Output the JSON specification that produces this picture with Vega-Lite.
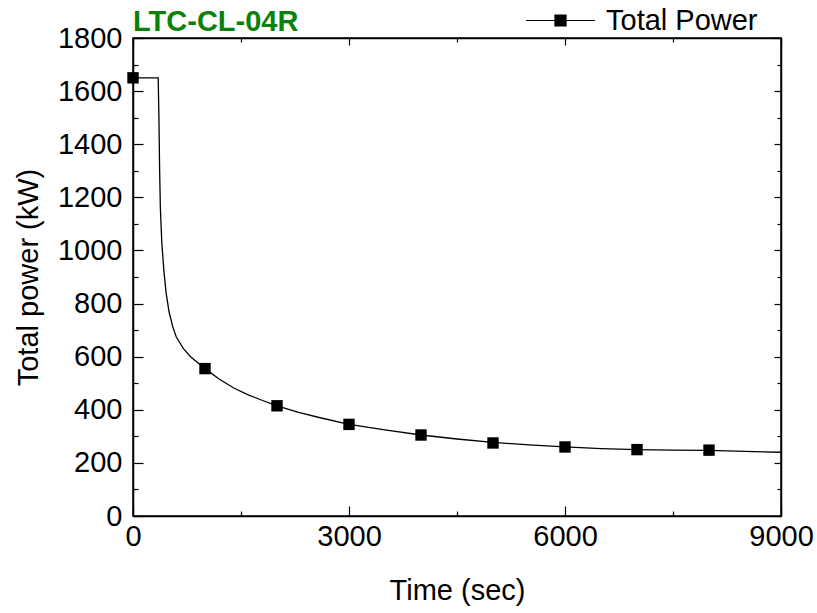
{
  "$schema": "https://vega.github.io/schema/vega-lite/v6.json",
  "width": 648,
  "height": 478,
  "autosize": {"type": "none"},
  "padding": {"left": 133, "top": 38, "right": 36, "bottom": 97},
  "background": "white",
  "config": {
    "font": "Liberation Sans",
    "view": {"stroke": "black", "strokeWidth": 1.5},
    "axis": {"domainColor": "black", "domainWidth": 1.5, "tickColor": "black", "tickWidth": 1.2, "labelColor": "black", "titleColor": "black", "grid": false, "labelFont": "Liberation Sans", "titleFont": "Liberation Sans", "labelFontSize": 29, "titleFontSize": 29, "titleFontWeight": "normal"}
  },
  "title": {"text": "LTC-CL-04R", "anchor": "start", "frame": "group", "fontSize": 29, "fontWeight": "bold", "color": "#0a820a", "font": "Liberation Sans", "baseline": "alphabetic", "offset": -75},
  "datasets": {
    "curve": [
      {"t": 0, "p": 1650}, {"t": 350, "p": 1650}, {"t": 360, "p": 1500}, {"t": 370, "p": 1300}, {"t": 380, "p": 1160},
      {"t": 400, "p": 1030}, {"t": 430, "p": 920}, {"t": 460, "p": 840}, {"t": 500, "p": 770}, {"t": 550, "p": 715},
      {"t": 600, "p": 675}, {"t": 700, "p": 630}, {"t": 800, "p": 600}, {"t": 900, "p": 577}, {"t": 1000, "p": 555},
      {"t": 1200, "p": 515}, {"t": 1400, "p": 482}, {"t": 1600, "p": 456}, {"t": 1800, "p": 435}, {"t": 2000, "p": 415},
      {"t": 2300, "p": 390}, {"t": 2600, "p": 370}, {"t": 3000, "p": 345}, {"t": 3500, "p": 324}, {"t": 4000, "p": 305},
      {"t": 4500, "p": 290}, {"t": 5000, "p": 277}, {"t": 5500, "p": 268}, {"t": 6000, "p": 260}, {"t": 6500, "p": 254},
      {"t": 7000, "p": 250}, {"t": 7500, "p": 248}, {"t": 8000, "p": 247}, {"t": 8500, "p": 243}, {"t": 9000, "p": 240}
    ],
    "markers": [
      {"t": 0, "p": 1650}, {"t": 1000, "p": 555}, {"t": 2000, "p": 415}, {"t": 3000, "p": 345}, {"t": 4000, "p": 305},
      {"t": 5000, "p": 275}, {"t": 6000, "p": 260}, {"t": 7000, "p": 250}, {"t": 8000, "p": 248}
    ]
  },
  "layer": [
    {
      "data": {"name": "curve"},
      "mark": {"type": "line", "strokeWidth": 1.3, "clip": true},
      "encoding": {
        "x": {"field": "t", "type": "quantitative", "scale": {"domain": [0, 9000], "nice": false, "zero": false},
          "axis": {"orient": "bottom", "title": "Time (sec)", "values": [0, 1500, 3000, 4500, 6000, 7500, 9000],
            "labelExpr": "datum.value % 3000 === 0 ? datum.label : ''", "format": "d",
            "tickSize": {"expr": "datum.value % 3000 === 0 ? -10 : -5"}, "labelPadding": 16, "titlePadding": 20, "labelFlush": false, "labelOverlap": false}},
        "y": {"field": "p", "type": "quantitative", "scale": {"domain": [0, 1800], "nice": false},
          "axis": {"orient": "left", "title": "Total power (kW)", "values": [0,100,200,300,400,500,600,700,800,900,1000,1100,1200,1300,1400,1500,1600,1700,1800],
            "labelExpr": "datum.value % 200 === 0 ? datum.label : ''", "format": "d",
            "tickSize": {"expr": "datum.value % 200 === 0 ? -10 : -5"}, "labelPadding": 21, "titlePadding": 14, "labelFlush": false, "labelOverlap": false}},
        "color": {"datum": "Total Power", "type": "nominal", "scale": {"range": ["black"]},
          "legend": {"title": null, "orient": "none", "legendX": 392, "legendY": -53, "labelFontSize": 29, "labelFont": "Liberation Sans", "labelColor": "black",
            "symbolType": "M-1,0L1,0M-0.16,-0.16L0.16,-0.16L0.16,0.16L-0.16,0.16Z", "symbolSize": 4761, "symbolFillColor": "black", "symbolStrokeColor": "black", "symbolStrokeWidth": 1.2, "labelOffset": 10}}
      }
    },
    {
      "data": {"name": "markers"},
      "mark": {"type": "point", "shape": "square", "filled": true, "color": "black", "size": 130, "opacity": 1},
      "encoding": {
        "x": {"field": "t", "type": "quantitative",
          "axis": {"orient": "top", "title": null, "labels": false, "values": [0, 1500, 3000, 4500, 6000, 7500, 9000],
            "tickSize": {"expr": "datum.value % 3000 === 0 ? -7 : -4"}}},
        "y": {"field": "p", "type": "quantitative",
          "axis": {"orient": "right", "title": null, "labels": false, "values": [0,100,200,300,400,500,600,700,800,900,1000,1100,1200,1300,1400,1500,1600,1700,1800],
            "tickSize": {"expr": "datum.value % 200 === 0 ? -7 : -4"}}}
      }
    }
  ],
  "resolve": {"axis": {"x": "independent", "y": "independent"}}
}
